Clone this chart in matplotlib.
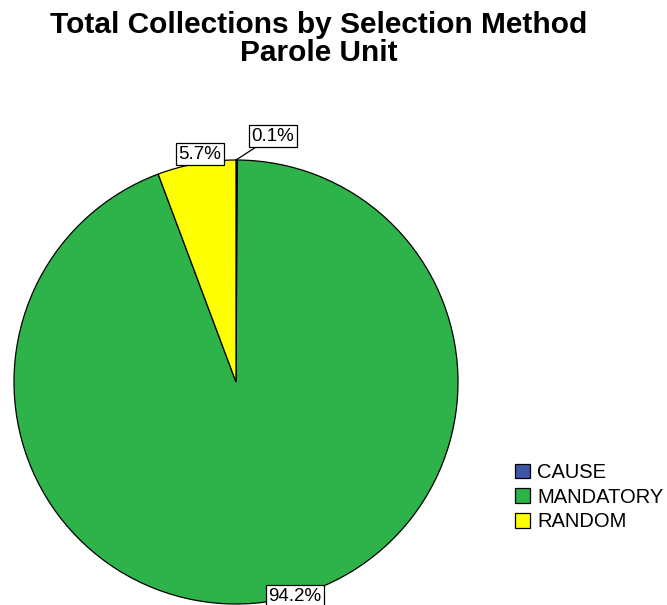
import matplotlib.pyplot as plt

plt.rcParams['font.family'] = ['Liberation Sans', 'DejaVu Sans']

methods = ['CAUSE', 'MANDATORY', 'RANDOM']
counts = [0.1, 94.2, 5.7]
colors = ['#3C57A8', '#2DB34A', '#FFFF00']

# where each percentage label sits (data coords, pie radius = 1)
label_pos = [(0.167, 1.108), (0.266, -0.964), (-0.162, 1.027)]

fig = plt.figure(figsize=(6.67, 6.05), dpi=100)
ax = fig.add_axes([14 / 667, 1 / 605, 444 / 667, 444 / 605])

wedges, _ = ax.pie(counts, colors=colors, startangle=90, counterclock=False,
                   radius=1.0, wedgeprops=dict(edgecolor='black', linewidth=0.9))
ax.set_xlim(-1, 1)
ax.set_ylim(-1, 1)
ax.set_aspect('equal')
ax.axis('off')

total = sum(counts)
box = dict(boxstyle='square,pad=0.12', facecolor='white', edgecolor='black', linewidth=0.9)
for i, (val, pos) in enumerate(zip(counts, label_pos)):
    txt = f'{val / total * 100:.1f}%'
    if val / total < 0.01:
        # tiny slice gets a leader line from its rim
        ax.annotate(txt, xy=(0.0, 1.0), xytext=pos, fontsize=13.5,
                    ha='center', va='center', bbox=box,
                    arrowprops=dict(arrowstyle='-', color='black', linewidth=0.9,
                                    shrinkA=0, shrinkB=0))
    else:
        ax.text(pos[0], pos[1], txt, fontsize=13.5, ha='center', va='center',
                bbox=box, zorder=5, clip_on=False)

fig.text(0.4775, 0.981, 'Total Collections by Selection Method\nParole Unit',
         ha='center', va='top', fontsize=21.5, fontweight='bold', linespacing=1.0)

leg = fig.legend(wedges, methods, loc='upper left', bbox_to_anchor=(505 / 667, 1 - 453 / 605),
                 frameon=False, fontsize=14.5, handlelength=0.75, handleheight=0.75,
                 handletextpad=0.35, labelspacing=0.28, borderpad=0)

fig.savefig('out.png', dpi=100)
